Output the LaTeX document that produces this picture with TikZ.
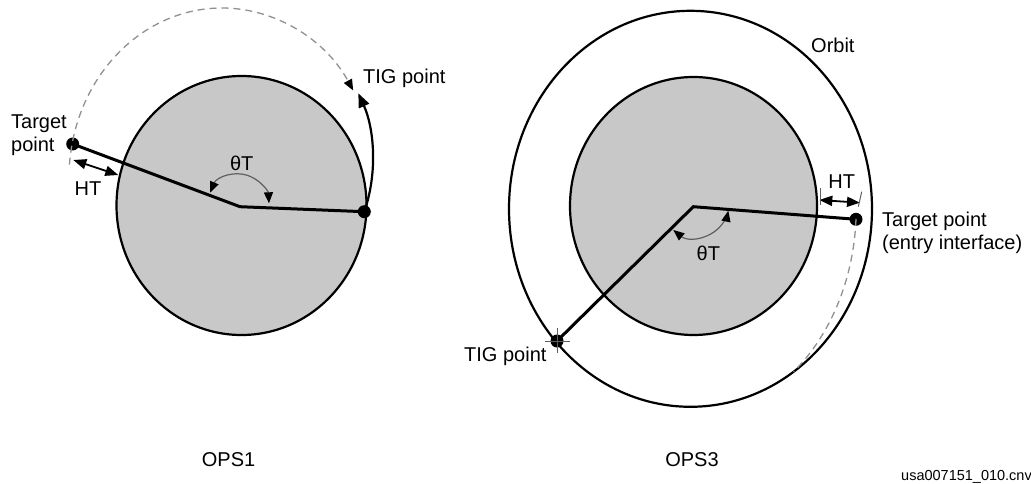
\documentclass[tikz,border=0pt]{standalone}
\usepackage{fontspec}
\setmainfont{Liberation Sans}
\usetikzlibrary{arrows.meta}
\definecolor{earthgray}{RGB}{200,200,200}
\definecolor{dashgray}{RGB}{145,145,145}
\definecolor{arcgray}{RGB}{95,95,95}
\begin{document}
\begin{tikzpicture}[x=1pt,y=-1pt,
  lbl/.style={font=\fontsize{20}{23}\selectfont, inner sep=0pt},
  smalllbl/.style={font=\fontsize{14.5}{17}\selectfont, inner sep=0pt},
  body/.style={fill=earthgray, draw=black, line width=2.2pt},
  orbitline/.style={draw=black, line width=2.2pt},
  radial/.style={line width=3pt, line join=miter},
  dot/.style={circle, fill=black, inner sep=0pt, minimum size=13pt},
  dashedarc/.style={draw=dashgray, line width=1.3pt, dash pattern=on 7pt off 5pt},
  anglearc/.style={draw=arcgray, line width=1.2pt,
    {Triangle[length=11pt,width=9pt,color=black]}-{Triangle[length=11pt,width=9pt,color=black]}},
  dimarrow/.style={line width=1.8pt,
    {Triangle[length=13pt,width=10pt]}-{Triangle[length=13pt,width=10pt]}},
  thintick/.style={draw=arcgray, line width=1pt}
]
\useasboundingbox (0,0) rectangle (1031,484);

% ================= OPS1 =================
\fill[body] (241.5,205.5) ellipse [x radius=125, y radius=129.5];
\coordinate (LC) at (240,206.7);
\node[dot] (LT) at (72.7,144) {};
\node[dot] (LTIG) at (364.3,211.7) {};
\draw[radial] (LT.center) -- (LC) -- (LTIG.center);
% dashed path of the coast
\coordinate (LDc) at (222,178);
\coordinate (LTIGtip) at (358.3,93.3);
\draw[dashedarc, -{Triangle[length=11pt,width=9pt,color=black]}]
  ([shift={(184.5:153 and 170)}]LDc) arc[start angle=184.5, end angle=329, x radius=153, y radius=170];
% solid arrow from TIG point
\draw[line width=2.2pt, -{Triangle[length=14pt,width=11pt]}]
  (LTIG.center) .. controls (378,172) and (374,128) .. (LTIGtip);
% HT dimension
\coordinate (LHa) at (73.3,160);
\coordinate (LHb) at (118.3,175);
\draw[dimarrow] (LHa) -- (LHb);
\coordinate (LHt1) at (77.3,181.7);
\coordinate (LHt2) at (77.3,195);
\draw[thintick] (LHt1) -- (LHt2);
% angle
\coordinate (LAc) at (238.3,204.7);
\draw[anglearc] ([shift={(203:30.7)}]LAc) arc[start angle=203, end angle=357.4, radius=30.7];
% labels
\node[lbl, anchor=north west, align=left] (LTl) at (11,115) {Target\\point};
\node[lbl, anchor=base west] (LTIGl) at (363,83.5) {TIG point};
\node[lbl] (LHl) at (88,188.3) {HT};
\node[lbl] (LAl) at (241.7,163.3) {θT};
\node[lbl] (OPS1) at (228.6,460) {OPS1};

% ================= OPS3 =================
\draw[orbitline] (690.5,208.8) ellipse [x radius=181.5, y radius=198];
\fill[body] (693.5,206) ellipse [x radius=123.5, y radius=129];
\coordinate (RC) at (693.3,206.7);
\node[dot] (RT) at (856,219.3) {};
\node[dot] (RTIG) at (557,341) {};
\draw[radial] (RTIG.center) -- (RC) -- (RT.center);
% dashed entry path
\coordinate (RDc) at (690.5,208.8);
\draw[dashedarc] ([shift={(2.8:165.7 and 208.1)}]RDc) arc[start angle=2.8, end angle=51.5, x radius=165.7, y radius=208.1];
% TIG crosshair
\draw[thintick] ([xshift=-12pt]RTIG.center) -- ([xshift=13pt]RTIG.center);
\draw[thintick] ([yshift=13pt]RTIG.center) -- ([yshift=-12pt]RTIG.center);
% HT dimension
\coordinate (RHa) at (819.3,200);
\coordinate (RHb) at (860,202.7);
\draw[dimarrow] (RHa) -- (RHb);
\coordinate (RHt1) at (820.7,188);
\coordinate (RHt2) at (820.7,205);
\coordinate (RHt3) at (861.7,191.7);
\coordinate (RHt4) at (858.3,206.7);
\draw[thintick] (RHt1) -- (RHt2);
\draw[thintick] (RHt3) -- (RHt4);
% angle
\coordinate (RAc) at (694.9,203.5);
\draw[anglearc] ([shift={(129.2:34.2)}]RAc) arc[start angle=129.2, end angle=12.2, radius=34.2];
% labels
\node[lbl, anchor=base west] (Orbl) at (811,53) {Orbit};
\node[lbl] (RHl) at (841.7,181.7) {HT};
\node[lbl] (RAl) at (708.3,253.3) {θT};
\node[lbl, anchor=north west, align=left] (RTl) at (882,212) {Target point\\(entry interface)};
\node[lbl, anchor=base west] (RTIGl) at (464,361) {TIG point};
\node[lbl] (OPS3) at (692,460) {OPS3};
\node[smalllbl, anchor=base west] (fname) at (901,480) {usa007151\_010.cnv};
\end{tikzpicture}
\end{document}
